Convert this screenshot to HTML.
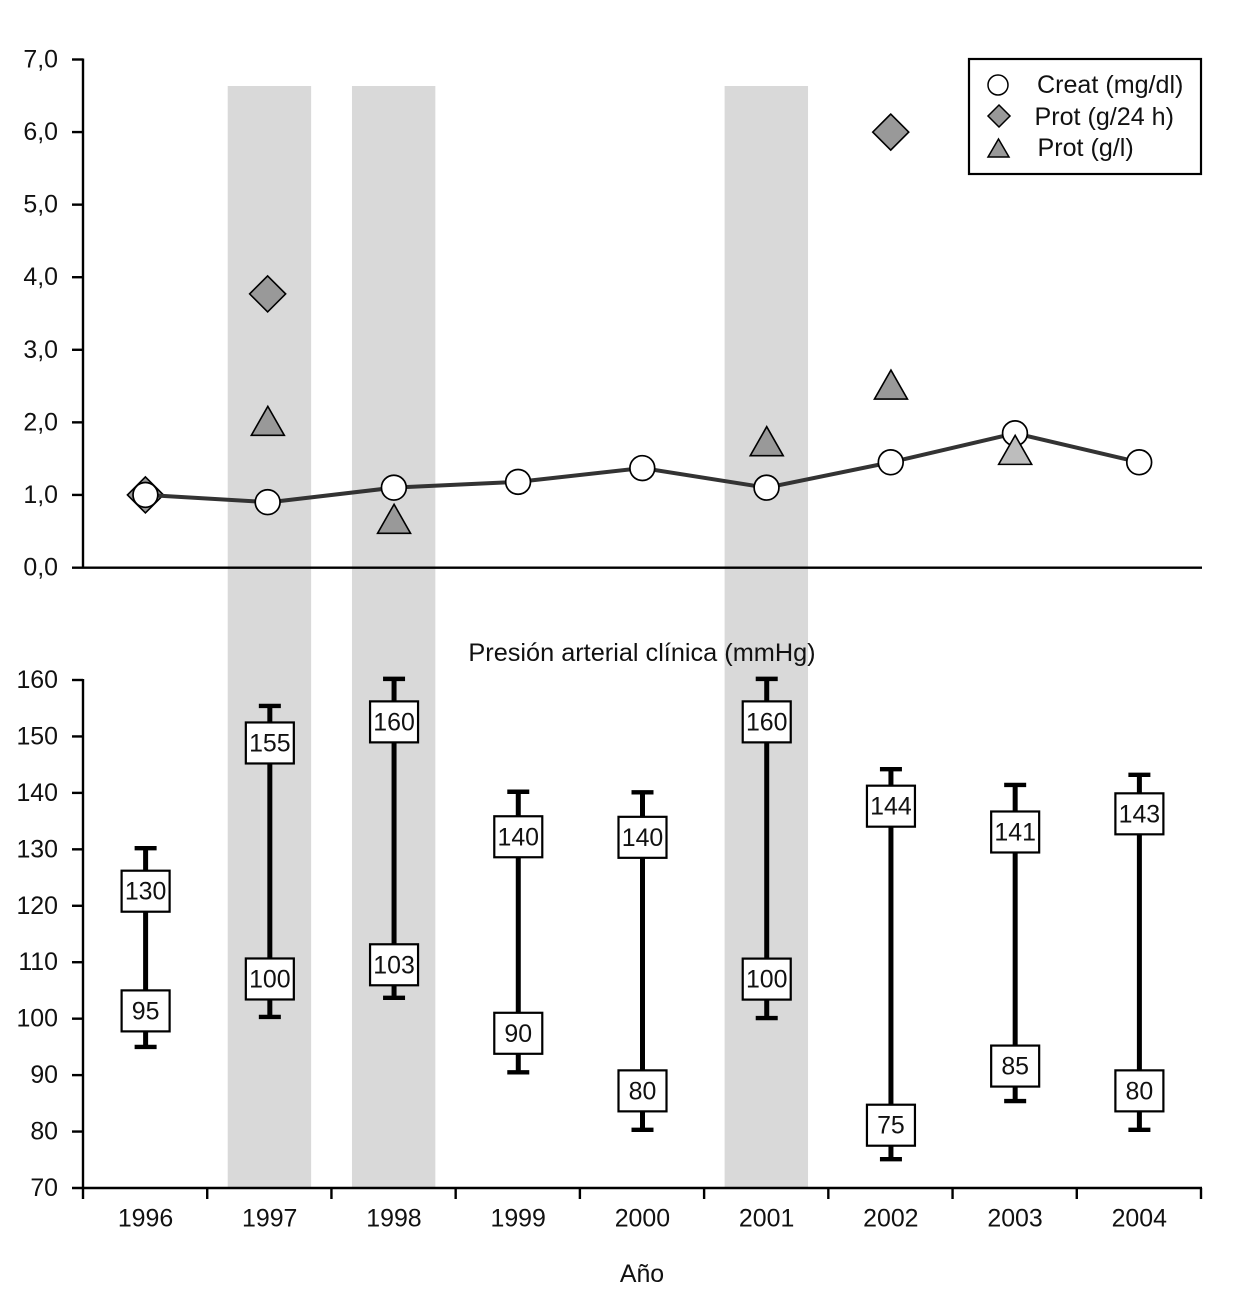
<!DOCTYPE html>
<html lang="es">
<head>
<meta charset="utf-8">
<title>Creatinina, proteinuria y presión arterial clínica</title>
<style>
html,body{margin:0;padding:0;background:#fff;}
svg{display:block;}
text{font-family:"Liberation Sans",Arial,sans-serif;fill:#111;}
</style>
</head>
<body>
<svg id="chart" xmlns="http://www.w3.org/2000/svg" width="1240" height="1312" viewBox="0 0 1240 1312"></svg>
<script>
// ---- data ----
const years = ['1996','1997','1998','1999','2000','2001','2002','2003','2004'];
const highlightedYears = ['1997','1998','2001'];
const creatinine = [1.0,0.9,1.1,1.18,1.37,1.1,1.45,1.85,1.45];
const protein24h = [1.0,3.77,null,null,null,null,6.0,null,null];
const proteinGL = [null,2.0,0.65,null,null,1.72,2.5,1.6,null];
const systolic = [130.2,155.4,160.2,140.2,140.1,160.2,144.2,141.4,143.2];
const diastolic = [95,100.3,103.7,90.5,80.3,100.1,75.1,85.4,80.3];
const systolicLabels = ['130','155','160','140','140','160','144','141','143'];
const diastolicLabels = ['95','100','103','90','80','100','75','85','80'];
const topTicks = [0,1,2,3,4,5,6,7];
const topTickLabels = ['0,0','1,0','2,0','3,0','4,0','5,0','6,0','7,0'];
const bottomTicks = [70,80,90,100,110,120,130,140,150,160];
const bottomTickLabels = ['70','80','90','100','110','120','130','140','150','160'];

// ---- layout (label box displacement from its whisker end, px) ----
const SYS_BOX_SHIFT = [43,37,43,45,45,43,37,47,39];
const DIA_BOX_SHIFT = [-36,-38,-33,-39,-39,-39,-34,-35,-39];

const svg = document.getElementById('chart');
const NS = 'http://www.w3.org/2000/svg';
const X0 = 83, X1 = 1201;
const FONT = 24.9;
const step = (X1 - X0) / years.length;
const xCenter = i => X0 + step * (i + 0.5);
const yTop = v => 567.5 - v * (508 / 7);
const yBottom = v => 1188 - (v - 70) * (508 / 90);

function make(tag, attrs, parent) {
  const el = document.createElementNS(NS, tag);
  for (const k in attrs) el.setAttribute(k, attrs[k]);
  (parent || svg).appendChild(el);
  return el;
}
function label(str, x, y, anchor, size, parent) {
  const el = make('text', {x: x, y: y, 'text-anchor': anchor, 'font-size': size}, parent);
  el.textContent = str;
  return el;
}
function hLine(x1, x2, y, w, parent) {
  return make('line', {x1: x1, x2: x2, y1: y, y2: y, stroke: '#000', 'stroke-width': w}, parent);
}
function vLine(x, y1, y2, w, parent) {
  return make('line', {x1: x, x2: x, y1: y1, y2: y2, stroke: '#000', 'stroke-width': w}, parent);
}
function diamondPoints(cx, cy, r) {
  return [cx, cy - r, cx + r, cy, cx, cy + r, cx - r, cy].join(' ');
}
function trianglePoints(cx, cy, w, up, down) {
  return [cx, cy - up, cx + w / 2, cy + down, cx - w / 2, cy + down].join(' ');
}

// highlighted bands
highlightedYears.forEach(function (yr) {
  const i = years.indexOf(yr);
  const band = make('rect', {x: xCenter(i) - 41.6, y: 86, width: 83.4, height: 1102, fill: '#d9d9d9'});
  
  
});

// top y axis
const topAxis = vLine(X0, yTop(7) - 1, yTop(0) + 1, 2.4);


const topBase = hLine(72, X1 + 1, yTop(0) + 0.2, 2.4);


topTicks.forEach(function (v, i) {
  if (v !== 0) {
    const t = hLine(72, X0, yTop(v), 2.4);
    
    
  }
  const l = label(topTickLabels[i], 58, yTop(v) + 8, 'end', FONT);
  
  
});

// protein g/24 h diamonds
protein24h.forEach(function (v, i) {
  if (v === null) return;
  const d = make('polygon', {points: diamondPoints(xCenter(i) - (i === 1 ? 2 : 0) + 0.3, yTop(v), 18), fill: '#999', stroke: '#000', 'stroke-width': 1.6});
  
  
});

// creatinine line
const creatLine = make('polyline', {
  points: creatinine.map((v, i) => (xCenter(i) + 0.3) + ',' + yTop(v)).join(' '),
  fill: 'none', stroke: '#333', 'stroke-width': 4
});



// creatinine points
creatinine.forEach(function (v, i) {
  const c = make('circle', {cx: xCenter(i) - (i === 1 ? 2 : 0) + 0.3, cy: yTop(v), r: 12.4, fill: '#fff', stroke: '#000', 'stroke-width': 1.7});
  
  
});

// protein g/l triangles
proteinGL.forEach(function (v, i) {
  if (v === null) return;
  const fill = years[i] === '2003' ? '#bdbdbd' : '#999';
  const t = make('polygon', {points: trianglePoints(xCenter(i) - (i === 1 ? 2 : 0) + 0.5, yTop(v), 33, 16, 13), fill: fill, stroke: '#000', 'stroke-width': 1.6});
  
  
});

// legend
const legend = make('g', {});


const legendBox = make('rect', {x: 969, y: 59, width: 232, height: 115, fill: '#fff', stroke: '#000', 'stroke-width': 2.2}, legend);


const lgCircle = make('circle', {cx: 998, cy: 85, r: 10, fill: '#fff', stroke: '#000', 'stroke-width': 1.5}, legend);


const lgDiamond = make('polygon', {points: diamondPoints(999, 116, 11), fill: '#999', stroke: '#000', 'stroke-width': 1.5}, legend);


const lgTriangle = make('polygon', {points: trianglePoints(998.5, 148, 21, 9, 9), fill: '#999', stroke: '#000', 'stroke-width': 1.5}, legend);


const lg1 = label('Creat (mg/dl)', 1037, 93, 'start', 25.1, legend);


const lg2 = label('Prot (g/24 h)', 1034.5, 125, 'start', 25.1, legend);


const lg3 = label('Prot (g/l)', 1037.5, 156, 'start', 25.1, legend);



// bottom panel title
const panelTitle = label('Presión arterial clínica (mmHg)', 642, 661, 'middle', 25.3);



// bottom axes
const botAxis = vLine(X0, yBottom(160) - 1, yBottom(70) + 11, 2.4);


const botBase = hLine(72, X1 + 1, yBottom(70), 2.4);


bottomTicks.forEach(function (v, i) {
  if (v !== 70) {
    const t = hLine(72, X0, yBottom(v), 2.4);
    
    
  }
  const l = label(bottomTickLabels[i], 58, yBottom(v) + 8, 'end', FONT);
  
  
});
for (let i = 1; i <= years.length; i++) {
  const t = vLine(X0 + step * i, 1188, 1199, 2.4);
  
  
}
years.forEach(function (yr, i) {
  const l = label(yr, xCenter(i) + 0.4, 1226.5, 'middle', FONT);
  
  
});
const xTitle = label('Año', 642, 1282, 'middle', FONT);



// blood pressure ranges
years.forEach(function (yr, i) {
  const cx = xCenter(i) + 0.5;
  const yS = yBottom(systolic[i]);
  const yD = yBottom(diastolic[i]);
  const g = make('g', {});
  
  
  const stem = vLine(cx, yS, yD, 5, g);
  
  
  const capS = hLine(cx - 11, cx + 11, yS, 4.4, g);
  
  
  const capD = hLine(cx - 11, cx + 11, yD, 4.4, g);
  
  

  const sy = yS + SYS_BOX_SHIFT[i];
  const boxS = make('rect', {x: cx - 24, y: sy - 20.5, width: 48, height: 41, fill: '#fff', stroke: '#000', 'stroke-width': 2.2}, g);
  
  
  const txtS = label(systolicLabels[i], cx, sy + 8.5, 'middle', FONT, g);
  
  

  const dy = yD + DIA_BOX_SHIFT[i];
  const boxD = make('rect', {x: cx - 24, y: dy - 20.5, width: 48, height: 41, fill: '#fff', stroke: '#000', 'stroke-width': 2.2}, g);
  
  
  const txtD = label(diastolicLabels[i], cx, dy + 8.5, 'middle', FONT, g);
  
  
});
</script>
</body>
</html>
